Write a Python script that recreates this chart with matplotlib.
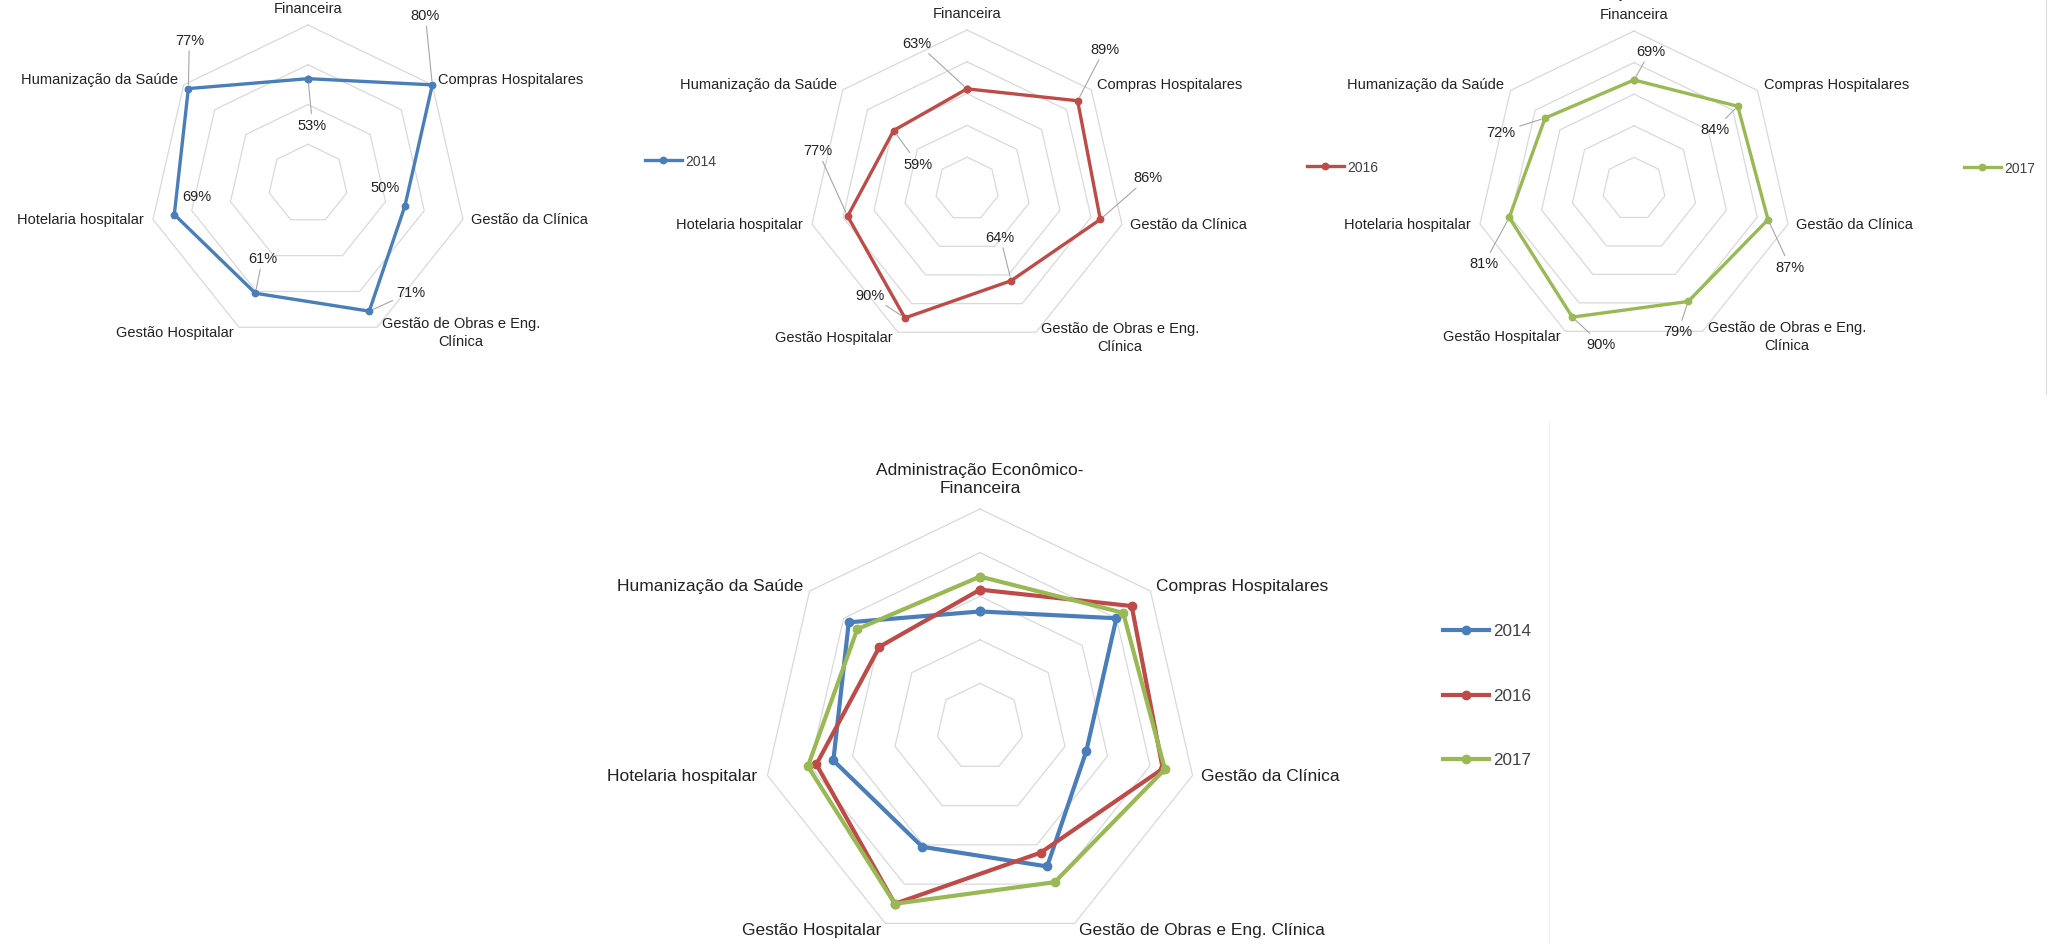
import numpy as np
import matplotlib
matplotlib.use('Agg')
import matplotlib.pyplot as plt
from matplotlib.lines import Line2D

# ---------------- data ----------------
categories = ['Administração Econômico-\nFinanceira', 'Compras Hospitalares', 'Gestão da Clínica',
              'Gestão de Obras e Eng.\nClínica', 'Gestão Hospitalar', 'Hotelaria hospitalar',
              'Humanização da Saúde']
categories_combined = ['Administração Econômico-\nFinanceira', 'Compras Hospitalares', 'Gestão da Clínica',
                       'Gestão de Obras e Eng. Clínica', 'Gestão Hospitalar', 'Hotelaria hospitalar',
                       'Humanização da Saúde']
years = ['2014', '2016', '2017']
values_2014 = [0.53, 0.80, 0.50, 0.71, 0.61, 0.69, 0.77]
values_2016 = [0.63, 0.89, 0.86, 0.64, 0.90, 0.77, 0.59]
values_2017 = [0.69, 0.84, 0.87, 0.79, 0.90, 0.81, 0.72]
axis_max = [0.8, 1.0, 1.0]      # radial axis maximum of each small chart
axis_max_combined = 1.0
ring_step = 0.2

# ---------------- style / layout ----------------
W, H, DPI = 2060, 945, 100
PX = 72.0 / DPI
colors = ['#4A7EBB', '#BE4B48', '#98B954']
grid_color = '#D9D9D9'
text_color = '#222222'
FONT = 'Liberation Sans'
plt.rcParams['font.family'] = [FONT, 'DejaVu Sans']

fig = plt.figure(figsize=(W / DPI, H / DPI), dpi=DPI)
fig.patch.set_facecolor('white')

N = len(categories)
theta = 2 * np.pi * np.arange(N) / N


def make_axes(cx, cy, R, rmax):
    ax = fig.add_axes([(cx - R) / W, 1 - (cy + R) / H, 2 * R / W, 2 * R / H])
    ax.set_xlim(-rmax, rmax)
    ax.set_ylim(-rmax, rmax)
    ax.set_axis_off()
    for lev in np.arange(ring_step, rmax + 1e-9, ring_step):
        xs = np.append(lev * np.sin(theta), lev * np.sin(theta[0]))
        ys = np.append(lev * np.cos(theta), lev * np.cos(theta[0]))
        ax.plot(xs, ys, color=grid_color, lw=0.9, clip_on=False, zorder=1)
    return ax


def plot_series(ax, vals, color, lw, ms):
    v = np.asarray(vals)
    xs = np.append(v * np.sin(theta), v[0] * np.sin(theta[0]))
    ys = np.append(v * np.cos(theta), v[0] * np.cos(theta[0]))
    ln, = ax.plot(xs, ys, color=color, lw=lw, marker='o', ms=ms, clip_on=False,
                  zorder=3, solid_joinstyle='round')
    return ln


# (ha, va, dx_px, dy_px_up, linespacing)
rules_small = [('center', 'bottom', 0, 10, 1.6), ('left', 'center', 6, 6, 1.35), ('left', 'center', 8, 0, 1.35),
               ('left', 'center', 5, -5, 1.35), ('right', 'center', -5, -5, 1.35),
               ('right', 'center', -9, 0, 1.35), ('right', 'center', -6, 6, 1.35)]
rules_big = [('center', 'bottom', 0, 14, 1.25), ('left', 'center', 6, 6, 1.25), ('left', 'center', 8, 0, 1.25),
             ('left', 'center', 4, -6, 1.25), ('right', 'center', -4, -6, 1.25),
             ('right', 'center', -10, 0, 1.25), ('right', 'center', -6, 6, 1.25)]


def category_labels(ax, labels, rmax, rules, fs):
    for i, lab in enumerate(labels):
        ha, va, dx, dy, ls = rules[i]
        ax.annotate(lab, xy=(rmax * np.sin(theta[i]), rmax * np.cos(theta[i])),
                    xytext=(dx * PX, dy * PX), textcoords='offset points',
                    ha=ha, va=va, multialignment='center', fontsize=fs, linespacing=ls,
                    color=text_color, annotation_clip=False)


# data-label offsets (px, right / down) and leader-line flags
label_offsets = [
    [(4.5, 46), (-7, -70), (-20, -19), (42, -19), (7, -35), (23, -19), (1, -49)],
    [(-50, -46), (27, -52), (48, -42), (-11, -44), (-35, -23), (-30, -66), (24, 33)],
    [(16.5, -29), (-23, 23), (22, 47), (-10, 30), (29, 27), (-25, 46), (-44, 14)],
]
leaders = [
    [True, True, False, True, True, False, True],
    [True] * 7,
    [True] * 7,
]

panels = [(308, 185, 159), (967, 190, 159), (1634, 190, 158)]
legend_pos = [(645, 162), (1307, 168), (1964, 169)]
series_vals = [values_2014, values_2016, values_2017]

for k in range(3):
    cx, cy, R = panels[k]
    rmax = axis_max[k]
    ax = make_axes(cx, cy, R, rmax)
    ln = plot_series(ax, series_vals[k], colors[k], 2.4, 4.6)
    category_labels(ax, categories, rmax, rules_small, 10.5)
    v = np.asarray(series_vals[k])
    for i in range(N):
        dx, dy = label_offsets[k][i]
        ap = dict(arrowstyle='-', color='#A6A6A6', lw=0.8, shrinkA=1, shrinkB=3) if leaders[k][i] else None
        ax.annotate(f'{round(v[i] * 100):d}%', xy=(v[i] * np.sin(theta[i]), v[i] * np.cos(theta[i])),
                    xytext=(dx * PX, -dy * PX), textcoords='offset points', ha='center', va='center',
                    fontsize=10.5, color=text_color, arrowprops=ap, annotation_clip=False, zorder=4)
    lx, ly = legend_pos[k]
    ax.legend(handles=[ln], labels=[years[k]], loc='center left',
              bbox_to_anchor=(lx / W, 1 - ly / H), bbox_transform=fig.transFigure,
              frameon=False, borderpad=0, borderaxespad=0, handlelength=2.66,
              handletextpad=0.25, fontsize=10, labelcolor='#404040')

# ---------------- combined chart ----------------
axc = make_axes(980, 728, 218, axis_max_combined)
lines = []
for k in range(3):
    lines.append(plot_series(axc, series_vals[k], colors[k], 3.0, 6.0))
category_labels(axc, categories_combined, axis_max_combined, rules_big, 12.5)

big_leg_y = [632, 697, 761]
for k in range(3):
    fig.legend(handles=[lines[k]], labels=[years[k]], loc='center left',
               bbox_to_anchor=(1443 / W, 1 - big_leg_y[k] / H), bbox_transform=fig.transFigure,
               frameon=False, borderpad=0, borderaxespad=0, handlelength=2.69,
               handletextpad=0.25, fontsize=12.3, labelcolor='#404040')

# faint screenshot frame lines
fig.add_artist(Line2D([2046 / W, 2046 / W], [1, 1 - 395 / H], transform=fig.transFigure,
                      color='#DCDCDC', lw=0.8))
fig.add_artist(Line2D([1549 / W, 1549 / W], [1 - 422 / H, 0], transform=fig.transFigure,
                      color='#F0F0F0', lw=0.8))

fig.savefig('out.png', dpi=DPI, facecolor='white')
